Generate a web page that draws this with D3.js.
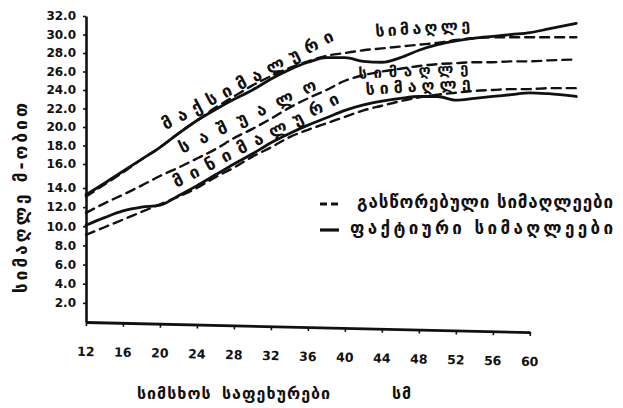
<!DOCTYPE html>
<html>
<head>
<meta charset="utf-8">
<script src="https://cdn.jsdelivr.net/npm/d3@7/dist/d3.min.js"></script>
<style>
  html, body { margin: 0; padding: 0; background: #fff; }
  svg { display: block; }
  text { font-family: "DejaVu Sans", "Noto Sans", sans-serif; font-weight: bold; fill: #111; }
</style>
</head>
<body>
<svg id="chart" width="623" height="408"></svg>
<script>
// Diameter classes (cm)
const diameters = [12, 14, 16, 18, 20, 22, 24, 26, 28, 30, 32, 34, 36, 38, 40,
                   42, 44, 46, 48, 50, 52, 54, 56, 58, 60, 62, 65];

// Heights (m)
const maxActual = [13.3, 14.4, 15.4, 16.5, 17.8, 19.3, 20.7, 21.9, 23.0, 24.0, 25.2, 26.2, 27.0, 27.5,
                   27.5, 27.1, 27.0, 27.5, 28.3, 28.9, 29.3, 29.6, 29.8, 30.0, 30.2, 30.6, 31.2];
const maxAdjusted = [13.1, 14.3, 15.3, 16.5, 17.8, 19.3, 20.7, 22.1, 23.3, 24.5, 25.5, 26.4, 27.1, 27.7,
                     28.0, 28.3, 28.5, 28.7, 28.9, 29.1, 29.4, 29.6, 29.7, 29.7, 29.7, 29.7, 29.7];
const meanAdjusted = [11.4, 12.4, 13.3, 14.2, 15.0, 15.7, 16.6, 17.6, 18.8, 19.8, 20.9, 22.1, 23.1, 24.0,
                      25.0, 25.6, 26.0, 26.3, 26.6, 26.8, 26.9, 27.0, 27.0, 27.1, 27.1, 27.2, 27.3];
const minActual = [10.1, 10.9, 11.6, 12.0, 12.2, 13.2, 14.2, 15.1, 16.0, 17.1, 18.3, 19.3, 20.2, 21.0,
                   21.8, 22.4, 22.8, 23.1, 23.3, 23.3, 22.9, 23.1, 23.3, 23.5, 23.7, 23.6, 23.3];
const minAdjusted = [9.1, 9.9, 10.7, 11.5, 12.3, 13.1, 14.0, 14.9, 15.7, 16.8, 17.8, 18.9, 19.7, 20.4,
                     21.1, 21.8, 22.3, 22.8, 23.2, 23.5, 23.7, 23.9, 24.0, 24.1, 24.1, 24.2, 24.2];

// Axis ticks
const xTicks = [12, 16, 20, 24, 28, 32, 36, 40, 44, 48, 52, 56, 60];
const yTicks = [2, 4, 6, 8, 10, 12, 14, 16, 18, 20, 22, 24, 26, 28, 30, 32];

// Texts
const yTitle = "სიმაღლე მ-ობით";
const xTitleWords = ["სიმსხოს", "საფეხურები", "სმ"];
const legendLabels = ["გასწორებული სიმაღლეები", "ფაქტიური სიმაღლეები"];
const curveLabelTexts = ["მაქსიმალური", "საშუალო", "მინიმალური", "სიმაღლე", "სიმაღლე", "სიმაღლე"];
// label anchors in data units: diameter, height
const curveLabelX = [29.5, 29.5, 30.4, 48.4, 47.4, 47.9];
const curveLabelY = [25.0, 21.1, 18.5, 30.6, 26.0, 24.3];

const svg = d3.select("#chart");
const ink = "#111";

const x = d3.scaleLinear().domain([12, 60]).range([86, 530]);
// hand-drawn height axis: the 14–16 step is wider than the others
const y = d3.scaleLinear().domain([0, 14, 16, 32]).range([322, 188, 164, 16]);

// ---- curves ----
const line = d3.line()
  .x((d, i) => x(diameters[i]))
  .y(d => y(d))
  .curve(d3.curveMonotoneX);

const series = [
  { values: maxAdjusted, dashed: true },
  { values: meanAdjusted, dashed: true },
  { values: minAdjusted, dashed: true },
  { values: maxActual, dashed: false },
  { values: minActual, dashed: false }
];

svg.append("g").selectAll("path")
  .data(series)
  .join("path")
  .attr("d", d => line(d.values))
  .attr("fill", "none")
  .attr("stroke", ink)
  .attr("stroke-width", d => d.dashed ? 2.4 : 2.8)
  .attr("stroke-linecap", "round")
  .attr("stroke-dasharray", d => d.dashed ? "9,6" : null);

// ---- axes ----
const xAxis = d3.axisBottom(x)
  .tickValues(xTicks)
  .tickSize(4)
  .tickSizeOuter(0)
  .tickPadding(21)
  .tickFormat(d3.format("d"));

const gx = svg.append("g")
  .attr("transform", `translate(0,${y(0)}) rotate(1.3 ${x(12)} 0)`)
  .call(xAxis);
gx.select(".domain").attr("stroke", ink).attr("stroke-width", 2.8);
gx.selectAll(".tick line").attr("stroke", ink).attr("stroke-width", 1.6);
gx.selectAll(".tick text").attr("font-size", 12.5).attr("fill", ink)
  .attr("font-family", "'DejaVu Sans', sans-serif").attr("font-weight", "bold");

const yAxis = d3.axisLeft(y)
  .tickValues(yTicks)
  .tickSize(3)
  .tickSizeOuter(0)
  .tickPadding(7)
  .tickFormat(d3.format(".1f"));

const gy = svg.append("g")
  .attr("transform", `translate(${x(12)},0)`)
  .call(yAxis);
gy.select(".domain").attr("stroke", ink).attr("stroke-width", 2.6);
gy.selectAll(".tick line").attr("stroke", ink).attr("stroke-width", 1.6);
gy.selectAll(".tick text").attr("font-size", 12).attr("fill", ink)
  .attr("font-family", "'DejaVu Sans', sans-serif").attr("font-weight", "bold");

// ---- axis titles ----
svg.append("text")
  .attr("transform", "translate(22,198) rotate(-90)")
  .attr("text-anchor", "middle")
  .attr("dominant-baseline", "middle")
  .attr("font-size", 17)
  .attr("textLength", 190)
  .attr("lengthAdjust", "spacing")
  .text(yTitle);

const xTitleStart = [137, 222, 392];
svg.append("g").selectAll("text")
  .data(xTitleWords)
  .join("text")
  .attr("x", (d, i) => xTitleStart[i])
  .attr("y", 394)
  .attr("dominant-baseline", "middle")
  .attr("font-size", 16)
  .attr("letter-spacing", 1)
  .text(d => d);

// ---- curve labels ----
const labelAngle = [-28, -25.5, -27.5, -4, -3, -3.5];
const labelLen = [192, 150, 185, 95, 110, 105];
const labelSize = [17, 17, 17, 16, 15, 16];
svg.append("g").selectAll("text")
  .data(curveLabelTexts)
  .join("text")
  .attr("transform", (d, i) => `translate(${x(curveLabelX[i])},${y(curveLabelY[i])}) rotate(${labelAngle[i]})`)
  .attr("text-anchor", "middle")
  .attr("dominant-baseline", "middle")
  .attr("font-size", (d, i) => labelSize[i])
  .attr("textLength", (d, i) => labelLen[i])
  .attr("lengthAdjust", "spacing")
  .text(d => d);

// ---- legend ----
const legend = svg.append("g").attr("transform", "translate(320,0)");
const legendRowY = [204, 230];
const legendTextX = [37, 30];
const legendTextLen = [256, 263];

legend.selectAll("line")
  .data(legendLabels)
  .join("line")
  .attr("x1", 0).attr("x2", (d, i) => i === 0 ? 18 : 19)
  .attr("y1", (d, i) => legendRowY[i]).attr("y2", (d, i) => legendRowY[i])
  .attr("stroke", ink)
  .attr("stroke-width", (d, i) => i === 0 ? 2.8 : 3.2)
  .attr("stroke-dasharray", (d, i) => i === 0 ? "7,4" : null);

legend.selectAll("text")
  .data(legendLabels)
  .join("text")
  .attr("x", (d, i) => legendTextX[i])
  .attr("y", (d, i) => legendRowY[i] - 1)
  .attr("dominant-baseline", "middle")
  .attr("font-size", 17)
  .attr("textLength", (d, i) => legendTextLen[i])
  .attr("lengthAdjust", "spacing")
  .text(d => d);
</script>
</body>
</html>
